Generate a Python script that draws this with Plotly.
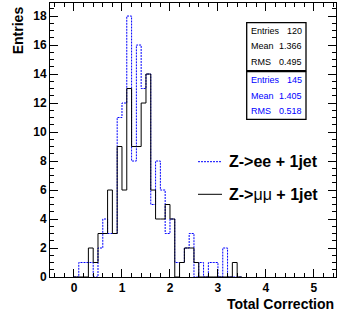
import numpy as np
import plotly.graph_objects as go

# ---- data ----
bin_width = 0.1
bin_left = [round(i * bin_width, 1) for i in range(35)]  # 0.0 ... 3.4
ee_counts = [0, 1, 1, 1, 0, 2, 4, 3, 3, 11, 12, 18, 8, 16, 13, 14, 5, 8, 6, 3,
             4, 1, 1, 2, 3, 0, 1, 0, 1, 1, 0, 2, 0, 0, 0]
mumu_counts = [0, 0, 0, 2, 1, 3, 3, 6, 3, 9, 6, 13, 9, 9, 12, 14, 6, 4, 4, 5,
               4, 0, 1, 2, 2, 1, 0, 0, 0, 0, 0, 0, 0, 1, 0]
stats_mumu = [("Entries", "120"), ("Mean", "1.366"), ("RMS", "0.495")]
stats_ee = [("Entries", "145"), ("Mean", "1.405"), ("RMS", "0.518")]
legend_labels = ["<b>Z->ee + 1jet</b>", "<b>Z-></b>μμ<b> + 1jet</b>"]
x_title = "Total Correction"
y_title = "Entries"

FONT = "Liberation Sans"
BLUE = "rgb(0,0,255)"

# canvas geometry (pixels)
W, H = 337, 322
L, R, T, B = 50, 336, 3, 277


def px_x(p):
    return (p - L) / (R - L)


def px_y(p):
    return (B - p) / (B - T)


def step_xy(counts):
    edges = bin_left + [round(bin_left[-1] + bin_width, 1)]
    xs = [edges[0]] + edges
    ys = [0] + list(counts) + [0]
    return xs, ys


fig = go.Figure()
xe, ye = step_xy(ee_counts)
fig.add_trace(go.Scatter(x=xe, y=ye, mode="lines", line_shape="hv",
                         line=dict(color=BLUE, width=1, dash="2px,1px"),
                         showlegend=False, hoverinfo="skip"))
xm, ym = step_xy(mumu_counts)
fig.add_trace(go.Scatter(x=xm, y=ym, mode="lines", line_shape="hv",
                         line=dict(color="black", width=1),
                         showlegend=False, hoverinfo="skip"))

axis_common = dict(showgrid=False, zeroline=False, showline=True, linecolor="black",
                   linewidth=1, mirror="ticks", ticks="inside", tickcolor="black",
                   tickwidth=1, ticklen=8,
                   tickfont=dict(family=FONT, size=12, color="black", weight="bold"))

fig.update_xaxes(range=[-0.5, 5.46], dtick=1, tick0=0,
                 minor=dict(dtick=0.2, ticklen=4, ticks="inside", tickcolor="black"),
                 **axis_common)
fig.update_yaxes(range=[0, 18.9], dtick=2, tick0=0,
                 minor=dict(dtick=0.5, ticklen=4, ticks="inside", tickcolor="black"),
                 **axis_common)

shapes = []
annotations = []

# stats boxes
boxes = [(22.7, 70.7, stats_mumu, "black", [30.7, 46.3, 62.0]),
         (71.7, 119.3, stats_ee, BLUE, [80.0, 95.7, 111.0])]
for top, bot, stats, col, rows in boxes:
    shapes.append(dict(type="rect", xref="paper", yref="paper",
                       x0=px_x(246.7), x1=px_x(306), y0=px_y(bot), y1=px_y(top),
                       line=dict(color="black", width=1.3), fillcolor="white"))
    for (lab, val), ry in zip(stats, rows):
        annotations.append(dict(text=lab, x=px_x(249.3), y=px_y(ry), xref="paper", yref="paper",
                                xanchor="left", yanchor="middle", showarrow=False,
                                font=dict(family=FONT, size=9, color=col)))
        annotations.append(dict(text=val, x=px_x(303.5), y=px_y(ry), xref="paper", yref="paper",
                                xanchor="right", yanchor="middle", showarrow=False,
                                font=dict(family=FONT, size=9, color=col)))

# legend
leg_rows = [(161.7, BLUE, "2px,1px"), (194.3, "black", "solid")]
for (ly, col, dash), lab in zip(leg_rows, legend_labels):
    shapes.append(dict(type="line", xref="paper", yref="paper",
                       x0=px_x(198), x1=px_x(222), y0=px_y(ly), y1=px_y(ly),
                       line=dict(color=col, width=1, dash=dash)))
    annotations.append(dict(text=lab, x=px_x(226.5), y=px_y(ly), xref="paper", yref="paper",
                            xanchor="left", yanchor="middle", showarrow=False,
                            font=dict(family=FONT, size=16, color="black")))

# axis titles
annotations.append(dict(text="<b>" + x_title + "</b>", x=px_x(336), y=px_y(303.5),
                        xref="paper", yref="paper", xanchor="right", yanchor="middle",
                        showarrow=False, font=dict(family=FONT, size=14, color="black")))
annotations.append(dict(text="<b>" + y_title + "</b>", x=px_x(18.3), y=px_y(4),
                        xref="paper", yref="paper", xanchor="center", yanchor="top",
                        textangle=-90, showarrow=False,
                        font=dict(family=FONT, size=14, color="black")))

fig.update_layout(width=W, height=H, margin=dict(l=L, r=W - R, t=T, b=H - B),
                  paper_bgcolor="white", plot_bgcolor="white",
                  shapes=shapes, annotations=annotations, showlegend=False)

fig.write_html("out.html")
